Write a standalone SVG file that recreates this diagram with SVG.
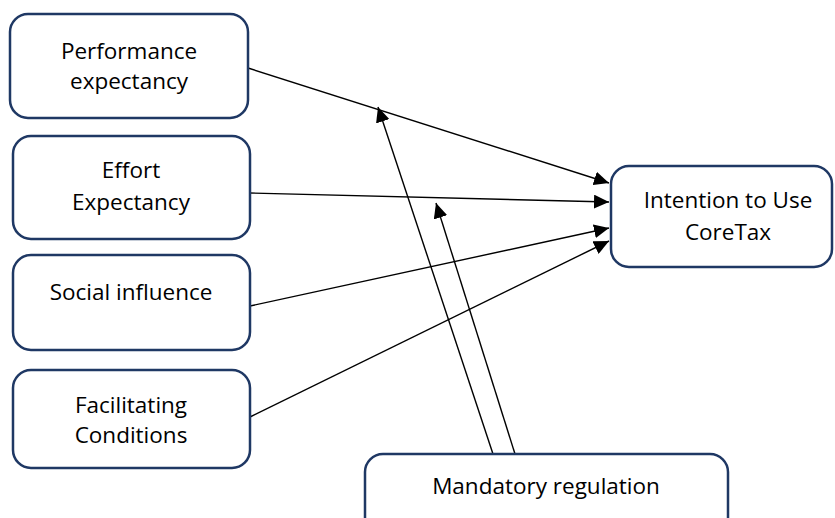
<svg xmlns="http://www.w3.org/2000/svg" width="835" height="518" viewBox="0 0 835 518">
<style>
.box{fill:#fff;stroke:#1f3864;stroke-width:2.5}
.lbl{font-family:"Open Sans","Noto Sans","DejaVu Sans",sans-serif;font-size:22.5px;fill:#000;text-anchor:middle}
.con{stroke:#000;stroke-width:1.4;fill:none;marker-end:url(#ah)}
</style>
<defs>
<marker id="ah" markerUnits="userSpaceOnUse" markerWidth="16" markerHeight="14" refX="15" refY="7" orient="auto">
<path d="M0,0 L15,7 L0,14 Z" fill="#000"/>
</marker>
</defs>
<rect width="835" height="518" fill="#fff"/>
<g id="connectors">
<line class="con" x1="248" y1="68" x2="609" y2="183"/>
<line class="con" x1="250" y1="193" x2="609" y2="202"/>
<line class="con" x1="250" y1="306" x2="609" y2="228"/>
<line class="con" x1="250" y1="417" x2="609" y2="241"/>
<line class="con" x1="493" y1="454" x2="378" y2="107"/>
<line class="con" x1="515" y1="454" x2="436" y2="203"/>
</g>
<g id="performance">
<rect class="box" x="10" y="14" width="238" height="104" rx="18"/>
<text class="lbl" x="129" y="59">Performance</text>
<text class="lbl" x="129" y="89">expectancy</text>
</g>
<g id="effort">
<rect class="box" x="13" y="136" width="237" height="103" rx="18"/>
<text class="lbl" x="131" y="178">Effort</text>
<text class="lbl" x="131" y="210">Expectancy</text>
</g>
<g id="social">
<rect class="box" x="13" y="255" width="237" height="95" rx="18"/>
<text class="lbl" x="131" y="300">Social influence</text>
</g>
<g id="facilitating">
<rect class="box" x="13" y="370" width="237" height="98" rx="18"/>
<text class="lbl" x="131" y="413">Facilitating</text>
<text class="lbl" x="131" y="443">Conditions</text>
</g>
<g id="intention">
<rect class="box" x="611" y="166" width="221" height="101" rx="18"/>
<text class="lbl" x="728" y="208">Intention to Use</text>
<text class="lbl" x="728" y="240">CoreTax</text>
</g>
<g id="mandatory">
<rect class="box" x="365" y="454" width="363" height="90" rx="18"/>
<text class="lbl" x="546" y="494">Mandatory regulation</text>
</g>
</svg>
